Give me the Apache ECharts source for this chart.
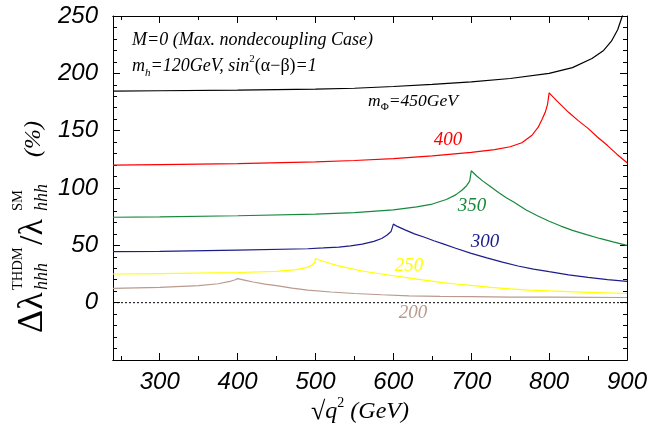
<!DOCTYPE html>
<html><head><meta charset="utf-8">
<script src="https://cdn.jsdelivr.net/npm/echarts@6/dist/echarts.min.js"></script>
<style>html,body{margin:0;padding:0;background:#fff}#c{width:651px;height:429px}</style>
</head><body><div id="c"></div>
<script>
// ---- data ----
const xMajorTicks = [300, 400, 500, 600, 700, 800, 900];
const xMinorTicks = [250, 350, 450, 550, 650, 750, 850];
const yTickLabels = [0, 50, 100, 150, 200, 250];

const curve450 = [[240,184.5],[300,184.8],[400,185.3],[500,186.2],[550,187],[600,188.5],[650,190.3],[700,192.5],[750,195.5],[800,200],[830,205],[855,213],[870,220],[880,228],[888,238],[894,250],[900,265]];
const curve400 = [[240,120],[300,120.4],[400,121.3],[500,122.8],[550,124],[600,125.7],[650,128],[700,131],[730,133.5],[750,136],[765,139.5],[778,146],[786,153],[791,160],[795,166],[798,173],[800,183],[810,176],[825,166],[837,159],[850,152],[862,144.5],[875,137],[887,129.5],[900,122]];
const curve350 = [[240,74.5],[300,74.8],[400,75.8],[500,77.3],[550,78.5],[600,81],[630,83.5],[650,86],[668,90],[680,94],[688,98],[694,102],[698,106],[700,115],[707,110.5],[715,106],[725,101],[735,96],[745,91.5],[755,87.5],[770,81],[785,75.8],[800,71],[815,66.8],[830,63],[848,59.3],[865,56],[882,53],[900,50]];
const curve300 = [[240,44.5],[300,44.8],[400,45.8],[490,47],[510,47.7],[530,48.5],[545,49.5],[560,51],[575,53.5],[585,56],[592,59],[597,62],[600,68.5],[605,66.5],[615,63.5],[627,60],[640,57],[652,54],[663,51.5],[680,47.5],[700,43],[720,39],[740,35.3],[760,32],[780,29.3],[800,27],[825,24.3],[850,22],[875,20.1],[900,18.5]];
const curve250 = [[240,25],[300,25.4],[400,26.3],[450,27.3],[475,28.8],[488,30.5],[495,32.5],[499,35],[500,38.5],[507,36.8],[515,35],[527,32.5],[540,30.5],[555,28.3],[570,26.5],[585,25],[600,23.5],[615,22],[630,20.5],[647,19],[663,17.5],[680,16.3],[700,15],[725,13.3],[750,12],[775,11],[800,10.2],[850,9],[900,8]];
const curve200 = [[240,12.5],[300,13.3],[350,14.8],[375,16.5],[390,18.5],[397,20],[400,21],[410,19.5],[420,18],[435,16.2],[450,14.8],[470,12.7],[490,11],[520,9.3],[550,8],[585,6.9],[620,6],[660,5.5],[700,5.2],[750,4.9],[800,4.8],[900,4.5]];
const zeroLine = [[240,0],[900,0]];

const curves = [
  {name:'450', data:curve450, color:'#000000'},
  {name:'400', data:curve400, color:'#ff0000'},
  {name:'350', data:curve350, color:'#17893c'},
  {name:'300', data:curve300, color:'#1d1d8a'},
  {name:'250', data:curve250, color:'#ffff00'},
  {name:'200', data:curve200, color:'#b99a8e'}
];

const SERIF = '"Liberation Serif", "DejaVu Serif", serif';
const SANS = '"Liberation Sans", Arial, sans-serif';
const axisLineStyle = {color:'#000', width:1};

function xAx(pos, ticks, len, labels){
  return {
    type:'value', position:pos, min:240, max:900,
    axisLine:{show:true, onZero:false, lineStyle:axisLineStyle},
    axisTick:{show:true, inside:true, length:len, customValues:ticks, lineStyle:axisLineStyle},
    axisLabel: labels ? {show:true, customValues:xMajorTicks, margin:10, color:'#000',
      fontFamily:SANS, fontStyle:'italic', fontSize:24} : {show:false},
    splitLine:{show:false}
  };
}
function yAx(pos, labels){
  return {
    type:'value', position:pos, min:-50, max:250, interval:50,
    axisLine:{show:true, onZero:false, lineStyle:axisLineStyle},
    axisTick:{show:true, inside:true, length:7, lineStyle:axisLineStyle},
    minorTick:{show:true, splitNumber:5, length:4, lineStyle:axisLineStyle},
    axisLabel: labels ? {show:true, customValues:yTickLabels, margin:15, color:'#000',
      fontFamily:SANS, fontStyle:'italic', fontSize:24} : {show:false},
    splitLine:{show:false}, minorSplitLine:{show:false}
  };
}

const series = curves.map(c => ({
  type:'line', name:c.name, data:c.data, showSymbol:false, symbol:'none',
  lineStyle:{color:c.color, width:1.2}, clip:true, silent:true, z:3
}));
series.push({type:'line', data:zeroLine, showSymbol:false, symbol:'none',
  lineStyle:{color:'#000', width:1, type:[2,2]}, silent:true, z:2});

const it = s => 'italic ' + s + 'px ' + SERIF;
const up = s => s + 'px ' + SERIF;

function label(text, x, y, color){
  return {type:'text', x:x, y:y, silent:true, style:{text:text, fill:color, font:it(19), align:'center', verticalAlign:'middle'}};
}

const yTitle = {
  type:'group', x:46, y:333, rotation:Math.PI/2, silent:true,
  children:[
    {type:'text', x:0, y:-13, style:{text:'Δλ', font:up(36), fill:'#000', align:'left', verticalAlign:'middle'}},
    {type:'text', x:43, y:-4, style:{text:'hhh', font:it(18), fill:'#000', align:'left', verticalAlign:'middle'}},
    {type:'text', x:43, y:-28, style:{text:'THDM', font:up(14.5), fill:'#000', align:'left', verticalAlign:'middle'}},
    {type:'text', x:88, y:-13, style:{text:'/λ', font:up(34), fill:'#000', align:'left', verticalAlign:'middle'}},
    {type:'text', x:122, y:-4, style:{text:'hhh', font:it(18), fill:'#000', align:'left', verticalAlign:'middle'}},
    {type:'text', x:122, y:-28, style:{text:'SM', font:up(14.5), fill:'#000', align:'left', verticalAlign:'middle'}},
    {type:'text', x:176, y:-12, style:{text:'(%)', font:it(24), fill:'#000', align:'left', verticalAlign:'middle'}}
  ]
};

const xTitle = {
  type:'text', x:360, y:412, silent:true,
  style:{
    text:'{r|√}{i|q}{sup|2}{i| (GeV)}', align:'center', verticalAlign:'middle',
    rich:{
      r:{font:up(26), fill:'#000', lineHeight:32},
      i:{font:it(24), fill:'#000', lineHeight:32},
      sup:{font:up(14), fill:'#000', lineHeight:14, verticalAlign:'top'}
    }
  }
};

const note1 = {type:'text', x:132, y:40, silent:true,
  style:{text:'M=0 (Max. nondecoupling Case)', font:it(18), fill:'#000', align:'left', verticalAlign:'middle'}};
const note2 = {type:'text', x:132, y:66, silent:true,
  style:{text:'{i|m}{sub|h}{i|=120GeV, sin}{sup|2}{g|(α−β)}{i|=1}', align:'left', verticalAlign:'middle',
    rich:{
      i:{font:it(18), fill:'#000', lineHeight:25},
      g:{font:up(18), fill:'#000', lineHeight:25},
      sub:{font:it(11), fill:'#000', lineHeight:10, verticalAlign:'bottom'},
      sup:{font:up(11), fill:'#000', lineHeight:10, verticalAlign:'top'}
    }}};
const note3 = {type:'text', x:368, y:101, silent:true,
  style:{text:'{i|m}{sub|Φ}{i|=450GeV}', align:'left', verticalAlign:'middle',
    rich:{
      i:{font:it(17.5), fill:'#000', lineHeight:24},
      sub:{font:up(11), fill:'#000', lineHeight:10, verticalAlign:'bottom'}
    }}};

const chart = echarts.init(document.getElementById('c'), null, {renderer:'canvas'});
chart.setOption({
  animation:false,
  backgroundColor:'#ffffff',
  grid:{left:113, right:24, top:16, bottom:69, containLabel:false},
  xAxis:[xAx('bottom', xMajorTicks, 7, true), xAx('bottom', xMinorTicks, 4, false),
         xAx('top', xMajorTicks, 7, false), xAx('top', xMinorTicks, 4, false)],
  yAxis:[yAx('left', true), yAx('right', false)],
  series:series,
  graphic:[
    yTitle, xTitle, note1, note2, note3,
    label('400', 448, 140, '#ff0000'),
    label('350', 472, 206, '#17893c'),
    label('300', 485, 242, '#1d1d8a'),
    label('250', 409, 266, '#ffff00'),
    label('200', 413, 313, '#b99a8e')
  ]
});
</script>
</body></html>
